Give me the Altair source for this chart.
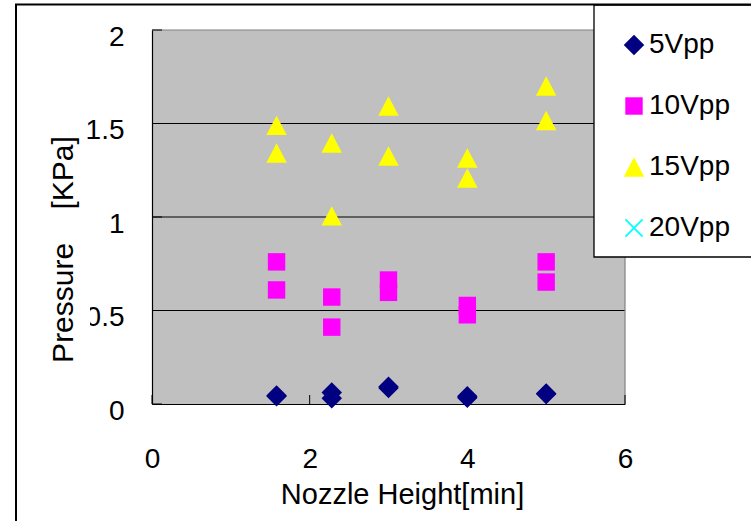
import altair as alt
import pandas as pd

# ---- data ----
series_names = ["5Vpp", "10Vpp", "15Vpp", "20Vpp"]
series_colors = ["#000080", "#FF00FF", "#FFFF00", "#00FFFF"]

heights = [1.58, 1.58, 2.28, 2.28, 3.0, 3.0, 4.0, 4.0, 5.0, 5.0]
p5 = [0.045, 0.042, 0.061, 0.031, 0.092, 0.085, 0.042, 0.034, 0.056, 0.054]
p10 = [0.76, 0.61, 0.572, 0.411, 0.663, 0.597, 0.527, 0.477, 0.76, 0.652]
p15 = [1.49, 1.342, 1.396, 1.006, 1.594, 1.326, 1.315, 1.208, 1.70, 1.516]

x_ticks = [0, 2, 4, 6]
y_ticks = [0, 0.5, 1, 1.5, 2]
grid_vals = [0.5, 1, 1.5]

DIAMOND = "M-1,0L0,-1L1,0L0,1Z"
SQUARE = "M-0.85,-0.85L0.85,-0.85L0.85,0.85L-0.85,0.85Z"
TRIANGLE = "M0,-0.95L1,0.95L-1,0.95Z"
X_PATH = ("M-0.9,-0.78L-0.78,-0.9L0,-0.12L0.78,-0.9L0.9,-0.78L0.12,0L0.9,0.78L0.78,0.9"
          "L0,0.12L-0.78,0.9L-0.9,0.78L-0.12,0Z")
series_shapes = [DIAMOND, SQUARE, TRIANGLE, X_PATH]

rows = []
for name, vals in [("5Vpp", p5), ("10Vpp", p10), ("15Vpp", p15)]:
    for h, v in zip(heights, vals):
        rows.append({"height": h, "pressure": v, "series": name})
df = pd.DataFrame(rows)

W, H = 473, 374
FONT = "Liberation Sans"
SYM = 420

x_scale = alt.Scale(domain=[0, 6], nice=False, zero=False)
y_scale = alt.Scale(domain=[0, 2], nice=False, zero=False)

one = alt.Data(values=[{"k": 1}])

legend = alt.Legend(
    title=None, orient="none", legendX=468, legendY=1,
    labelFont=FONT, labelFontSize=28, labelColor="black",
    symbolSize=SYM, symbolStrokeWidth=0, symbolOpacity=1,
    rowPadding=33, labelOffset=1, padding=0, zindex=1,
)

points = alt.Chart(df).mark_point(filled=True, opacity=1, size=SYM, strokeWidth=0).encode(
    x=alt.X("height:Q", scale=x_scale,
            axis=alt.Axis(values=x_ticks, format="~g", title="Nozzle Height[min]", grid=False,
                          ticks=False, tickSize=0, labelPadding=41, labelFlush=False,
                          labelOverlap=False, domainColor="black", domainWidth=1.2,
                          labelFont=FONT, labelFontSize=28, labelColor="black",
                          titleFont=FONT, titleFontSize=29, titleFontWeight="normal",
                          titleColor="black", titleX=250, titleY=99,
                          titleBaseline="alphabetic")),
    y=alt.Y("pressure:Q", scale=y_scale,
            axis=alt.Axis(values=y_ticks, format="~g", title="Pressure\u00a0\u00a0\u00a0\u00a0[KPa]",
                          grid=False, ticks=False, tickSize=0, labelPadding=28,
                          labelOffset=7, labelFlush=False, labelOverlap=False,
                          domainColor="black", domainWidth=1.2,
                          labelFont=FONT, labelFontSize=28, labelColor="black",
                          titleFont=FONT, titleFontSize=30, titleFontWeight="normal",
                          titleColor="black", titleX=-80, titleY=219,
                          titleBaseline="alphabetic", titleAngle=270)),
    color=alt.Color("series:N", scale=alt.Scale(domain=series_names, range=series_colors),
                    legend=legend),
    shape=alt.Shape("series:N", scale=alt.Scale(domain=series_names, range=series_shapes),
                    legend=legend),
)

grid = alt.Chart(pd.DataFrame({"g": grid_vals})).mark_rule(color="black", strokeWidth=1).encode(
    y=alt.Y("g:Q", scale=y_scale), x=alt.value(0), x2=alt.value(W)
)

top_border = alt.Chart(one).mark_rule(color="#808080", strokeWidth=1.2).encode(
    x=alt.value(0), x2=alt.value(W), y=alt.value(0)
)
right_border = alt.Chart(one).mark_rule(color="#808080", strokeWidth=1.2).encode(
    x=alt.value(W), y=alt.value(0), y2=alt.value(H)
)

xticks = alt.Chart(pd.DataFrame({"t": x_ticks})).mark_rule(color="black", strokeWidth=1).encode(
    x=alt.X("t:Q", scale=x_scale), y=alt.value(H), y2=alt.value(H - 9)
)
yticks = alt.Chart(pd.DataFrame({"t": y_ticks})).mark_rule(color="black", strokeWidth=1).encode(
    y=alt.Y("t:Q", scale=y_scale), x=alt.value(0), x2=alt.value(10)
)

legend_box = alt.Chart(one).mark_rect(fill="white", stroke="black", strokeWidth=1.3).encode(
    x=alt.value(442), x2=alt.value(700), y=alt.value(-25), y2=alt.value(227)
)

mask = alt.Chart(one).mark_rect(fill="white").encode(
    x=alt.value(-76), x2=alt.value(-62), y=alt.value(268), y2=alt.value(298)
)

outer = alt.Chart(one).mark_rect(fill=None, stroke="black", strokeWidth=2).encode(
    x=alt.value(-136), x2=alt.value(800), y=alt.value(-25.5), y2=alt.value(600)
)

chart = alt.layer(
    grid, top_border, right_border, xticks, yticks, points, legend_box, mask, outer
).resolve_scale(x="shared", y="shared").properties(
    width=W, height=H,
    autosize=alt.AutoSizeParams(type="none"),
    padding={"left": 152, "top": 30, "right": 751 - 152 - W, "bottom": 521 - 30 - H},
    background="white",
).configure_view(fill="#C0C0C0", stroke=None)

chart.save("out.html", embed_options={"renderer": "svg", "actions": False})
